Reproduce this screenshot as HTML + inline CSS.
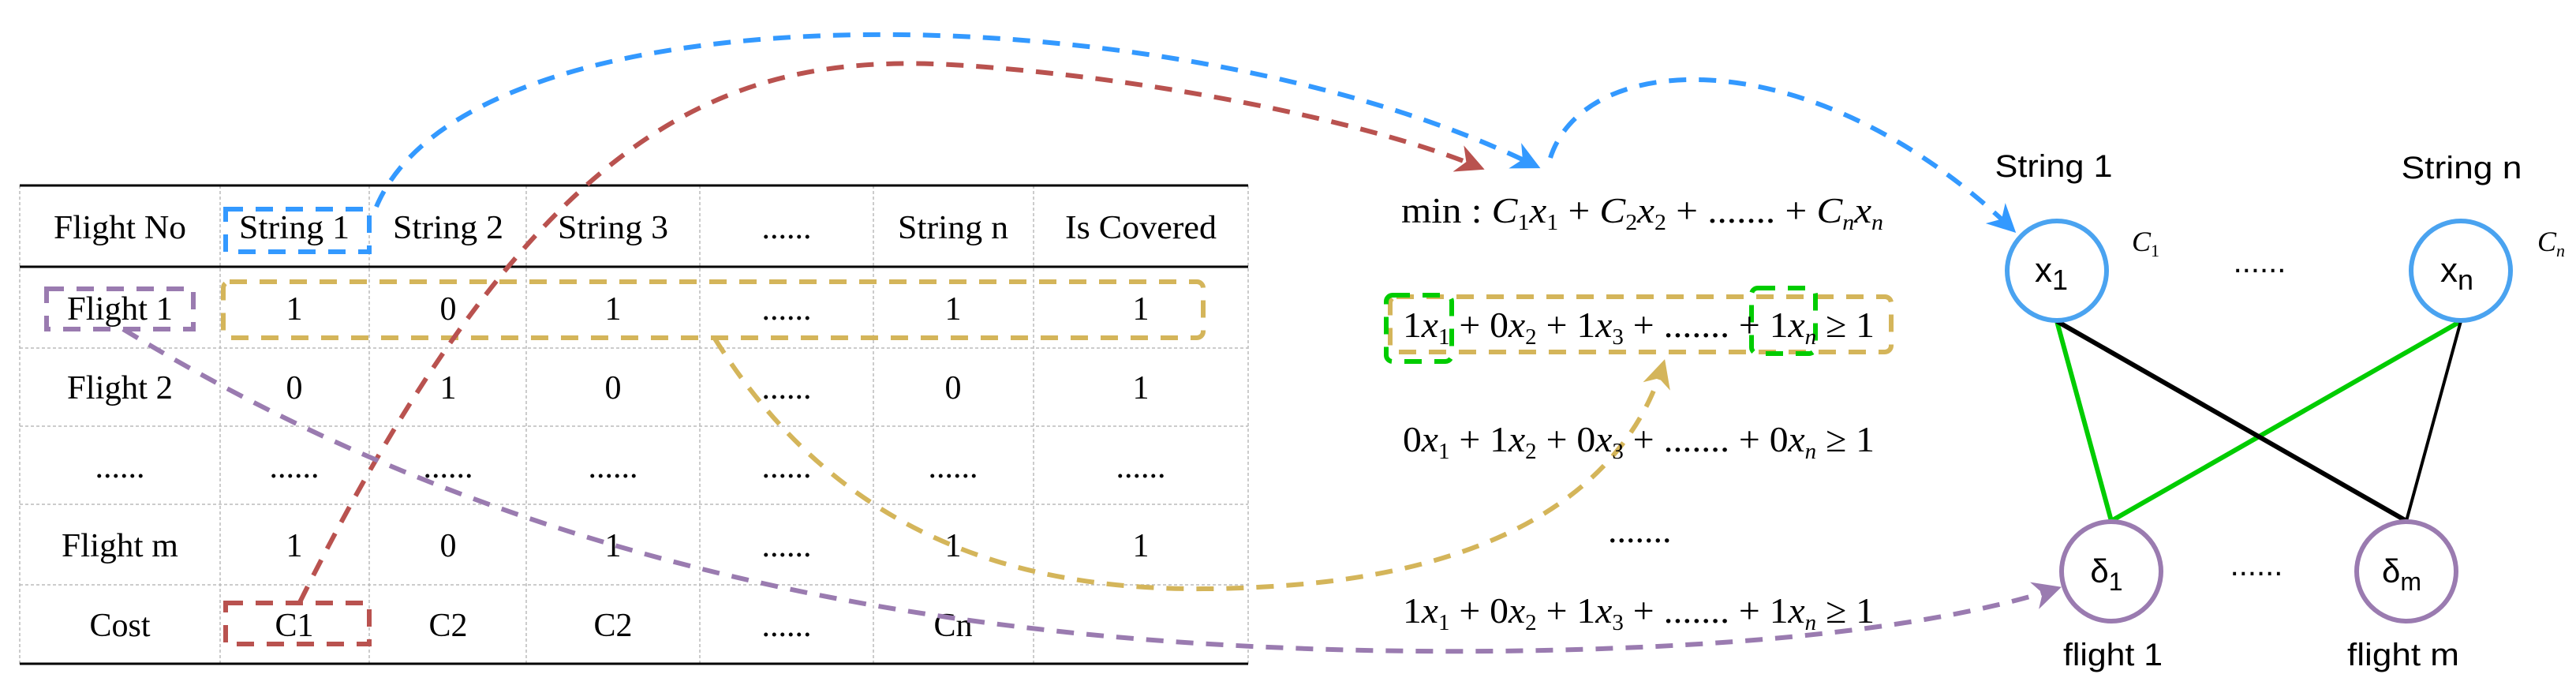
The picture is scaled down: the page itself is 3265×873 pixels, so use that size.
<!DOCTYPE html>
<html><head><meta charset="utf-8"><style>html,body{margin:0;padding:0;background:#fff}svg{display:block}</style></head>
<body>
<svg width="3265" height="873" viewBox="0 0 3265 873" xmlns="http://www.w3.org/2000/svg">
<defs>
<marker id="aB" viewBox="0 0 10 10" markerWidth="6" markerHeight="6" refX="8" refY="5" orient="auto" markerUnits="strokeWidth"><path d="M0,0 L10,5 L0,10 L3,5 z" fill="#3399ff"/></marker>
<marker id="aR" viewBox="0 0 10 10" markerWidth="6" markerHeight="6" refX="8" refY="5" orient="auto" markerUnits="strokeWidth"><path d="M0,0 L10,5 L0,10 L3,5 z" fill="#b9524f"/></marker>
<marker id="aY" viewBox="0 0 10 10" markerWidth="6" markerHeight="6" refX="8" refY="5" orient="auto" markerUnits="strokeWidth"><path d="M0,0 L10,5 L0,10 L3,5 z" fill="#d4b55a"/></marker>
<marker id="aP" viewBox="0 0 10 10" markerWidth="6" markerHeight="6" refX="8" refY="5" orient="auto" markerUnits="strokeWidth"><path d="M0,0 L10,5 L0,10 L3,5 z" fill="#9a7bb0"/></marker>
</defs>
<g stroke="#bbb" stroke-width="1.5" stroke-dasharray="4,3">
<line x1="279" y1="235" x2="279" y2="841"/><line x1="468" y1="235" x2="468" y2="841"/>
<line x1="667" y1="235" x2="667" y2="841"/><line x1="887" y1="235" x2="887" y2="841"/>
<line x1="1107" y1="235" x2="1107" y2="841"/><line x1="1310" y1="235" x2="1310" y2="841"/>
<line x1="25" y1="235" x2="25" y2="841"/><line x1="1582" y1="235" x2="1582" y2="841"/>
<line x1="25" y1="441" x2="1582" y2="441"/><line x1="25" y1="540" x2="1582" y2="540"/>
<line x1="25" y1="639" x2="1582" y2="639"/><line x1="25" y1="741" x2="1582" y2="741"/>
</g>
<g stroke="#000" stroke-width="3"><line x1="25" y1="235" x2="1582" y2="235"/><line x1="25" y1="338" x2="1582" y2="338"/><line x1="25" y1="841" x2="1582" y2="841"/></g>
<g font-family="Liberation Serif, serif" font-size="42" text-anchor="middle" fill="#000">
<text x="152" y="302" textLength="168" lengthAdjust="spacingAndGlyphs">Flight No</text><text x="373" y="302" textLength="140" lengthAdjust="spacingAndGlyphs">String 1</text><text x="568" y="302" textLength="140" lengthAdjust="spacingAndGlyphs">String 2</text><text x="777" y="302" textLength="140" lengthAdjust="spacingAndGlyphs">String 3</text><text x="997" y="302">......</text><text x="1208" y="302" textLength="140" lengthAdjust="spacingAndGlyphs">String n</text><text x="1446" y="302" textLength="192" lengthAdjust="spacingAndGlyphs">Is Covered</text>
<text x="152" y="405" textLength="134" lengthAdjust="spacingAndGlyphs">Flight 1</text><text x="373" y="405">1</text><text x="568" y="405">0</text><text x="777" y="405">1</text><text x="997" y="405">......</text><text x="1208" y="405">1</text><text x="1446" y="405">1</text>
<text x="152" y="505" textLength="134" lengthAdjust="spacingAndGlyphs">Flight 2</text><text x="373" y="505">0</text><text x="568" y="505">1</text><text x="777" y="505">0</text><text x="997" y="505">......</text><text x="1208" y="505">0</text><text x="1446" y="505">1</text>
<text x="152" y="605">......</text><text x="373" y="605">......</text><text x="568" y="605">......</text><text x="777" y="605">......</text><text x="997" y="605">......</text><text x="1208" y="605">......</text><text x="1446" y="605">......</text>
<text x="152" y="705" textLength="148" lengthAdjust="spacingAndGlyphs">Flight m</text><text x="373" y="705">1</text><text x="568" y="705">0</text><text x="777" y="705">1</text><text x="997" y="705">......</text><text x="1208" y="705">1</text><text x="1446" y="705">1</text>
<text x="152" y="806">Cost</text><text x="373" y="806">C1</text><text x="568" y="806">C2</text><text x="777" y="806">C2</text><text x="997" y="806">......</text><text x="1208" y="806">Cn</text>
</g>
<g fill="none" stroke-width="6" stroke-dasharray="22,16">
<rect x="286" y="265" width="182" height="54" stroke="#3399ff"/>
<rect x="59" y="366" width="186" height="51" stroke="#9a7bb0"/>
<rect x="283" y="357" width="1242" height="71" rx="8" stroke="#d4b55a"/>
<rect x="286" y="764" width="182" height="52" stroke="#b9524f"/>
<rect x="1762" y="376" width="635" height="70" rx="8" stroke="#d4b55a"/>
<rect x="1757" y="374" width="83" height="84" rx="8" stroke="#00cc00"/>
<rect x="2220" y="365" width="81" height="83" rx="8" stroke="#00cc00"/>
</g>
<g fill="none" stroke-width="6" stroke-dasharray="22,16">
<path d="M477,262 C600,-30 1500,-10 1946,210" stroke="#3399ff" marker-end="url(#aB)"/>
<path d="M380,763 C700,120 950,60 1250,85 C1500,105 1750,160 1875,212" stroke="#b9524f" marker-end="url(#aR)"/>
<path d="M1965,200 C2010,60 2300,50 2550,290" stroke="#3399ff" marker-end="url(#aB)"/>
<path d="M906,429 C1100,740 1400,760 1640,741 C1900,720 2060,620 2108,462" stroke="#d4b55a" marker-end="url(#aY)"/>
<path d="M156,417 C700,750 1300,830 1900,825 C2300,820 2500,780 2606,746" stroke="#9a7bb0" marker-end="url(#aP)"/>
</g>
<g font-family="Liberation Serif, serif" font-size="46" fill="#000">
<text x="1776" y="282" textLength="611" lengthAdjust="spacingAndGlyphs">min : <tspan font-style="italic">C</tspan><tspan font-size="28" dy="9">1</tspan><tspan font-style="italic" dy="-9">x</tspan><tspan font-size="28" dy="9">1</tspan><tspan dy="-9"> + </tspan><tspan font-style="italic">C</tspan><tspan font-size="28" dy="9">2</tspan><tspan font-style="italic" dy="-9">x</tspan><tspan font-size="28" dy="9">2</tspan><tspan dy="-9"> + ....... + </tspan><tspan font-style="italic">C</tspan><tspan font-size="28" font-style="italic" dy="9">n</tspan><tspan font-style="italic" dy="-9">x</tspan><tspan font-size="28" font-style="italic" dy="9">n</tspan></text>
<text x="1778" y="427" textLength="598" lengthAdjust="spacingAndGlyphs">1<tspan font-style="italic">x</tspan><tspan font-size="28" dy="9">1</tspan><tspan dy="-9"> + 0</tspan><tspan font-style="italic">x</tspan><tspan font-size="28" dy="9">2</tspan><tspan dy="-9"> + 1</tspan><tspan font-style="italic">x</tspan><tspan font-size="28" dy="9">3</tspan><tspan dy="-9"> + ....... + 1</tspan><tspan font-style="italic">x</tspan><tspan font-size="28" font-style="italic" dy="9">n</tspan><tspan dy="-9"> ≥ 1</tspan></text>
<text x="1778" y="572" textLength="598" lengthAdjust="spacingAndGlyphs">0<tspan font-style="italic">x</tspan><tspan font-size="28" dy="9">1</tspan><tspan dy="-9"> + 1</tspan><tspan font-style="italic">x</tspan><tspan font-size="28" dy="9">2</tspan><tspan dy="-9"> + 0</tspan><tspan font-style="italic">x</tspan><tspan font-size="28" dy="9">3</tspan><tspan dy="-9"> + ....... + 0</tspan><tspan font-style="italic">x</tspan><tspan font-size="28" font-style="italic" dy="9">n</tspan><tspan dy="-9"> ≥ 1</tspan></text>
<text x="2038" y="687">.......</text>
<text x="1778" y="789" textLength="598" lengthAdjust="spacingAndGlyphs">1<tspan font-style="italic">x</tspan><tspan font-size="28" dy="9">1</tspan><tspan dy="-9"> + 0</tspan><tspan font-style="italic">x</tspan><tspan font-size="28" dy="9">2</tspan><tspan dy="-9"> + 1</tspan><tspan font-style="italic">x</tspan><tspan font-size="28" dy="9">3</tspan><tspan dy="-9"> + ....... + 1</tspan><tspan font-style="italic">x</tspan><tspan font-size="28" font-style="italic" dy="9">n</tspan><tspan dy="-9"> ≥ 1</tspan></text>
</g>
<g stroke-width="6">
<line x1="2607" y1="407" x2="2676" y2="660" stroke="#00cc00"/>
<line x1="3119" y1="407" x2="2676" y2="660" stroke="#00cc00"/>
<line x1="2607" y1="407" x2="3050" y2="660" stroke="#000"/>
<line x1="3119" y1="407" x2="3050" y2="660" stroke="#000" stroke-width="4"/>
<circle cx="2607" cy="343" r="63" fill="#fff" stroke="#4aa3f0"/>
<circle cx="3119" cy="343" r="63" fill="#fff" stroke="#4aa3f0"/>
<circle cx="2676" cy="724" r="63" fill="#fff" stroke="#9a7bb0"/>
<circle cx="3050" cy="724" r="63" fill="#fff" stroke="#9a7bb0"/>
</g>
<g font-family="Liberation Sans, sans-serif" font-size="40" fill="#000" text-anchor="middle">
<text x="2603" y="224" textLength="149" lengthAdjust="spacingAndGlyphs">String 1</text><text x="3120" y="226" textLength="153" lengthAdjust="spacingAndGlyphs">String n</text>
<text x="2600" y="357" font-size="44">x<tspan font-size="36" dy="10">1</tspan></text>
<text x="3114" y="357" font-size="44">x<tspan font-size="36" dy="10">n</tspan></text>
<text x="2670" y="738" font-size="42">δ<tspan font-size="32" dy="10">1</tspan></text>
<text x="3044" y="738" font-size="42">δ<tspan font-size="32" dy="10">m</tspan></text>
<text x="2864" y="345">......</text><text x="2860" y="729">......</text>
<text x="2678" y="843" textLength="126" lengthAdjust="spacingAndGlyphs">flight 1</text><text x="3046" y="843" textLength="142" lengthAdjust="spacingAndGlyphs">flight m</text>
</g>
<g font-family="Liberation Serif, serif" font-style="italic" font-size="36" fill="#000">
<text x="2702" y="318">C<tspan font-size="22" font-style="normal" dy="7">1</tspan></text>
<text x="3216" y="318">C<tspan font-size="22" dy="7">n</tspan></text>
</g>
</svg>
</body></html>
